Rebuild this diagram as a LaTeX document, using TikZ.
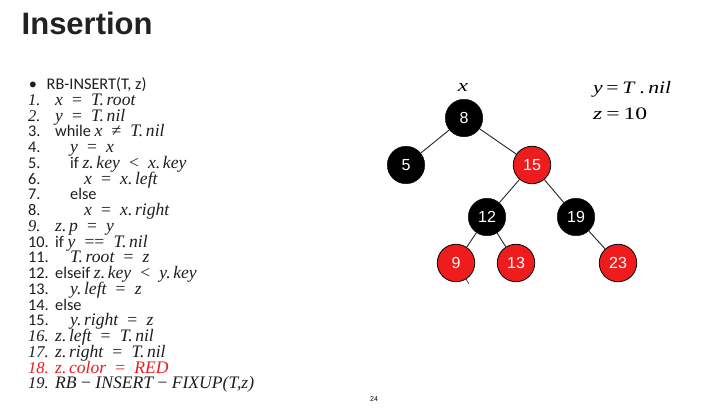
\documentclass[tikz,border=0pt]{standalone}
\usepackage{fontspec}
\setmainfont{Carlito}
\newfontfamily\titlefont{Liberation Sans}
\newfontfamily\serifit{Liberation Serif}
\definecolor{nodered}{HTML}{EE1C1C}
\definecolor{codered}{HTML}{E81E1E}
\definecolor{titlegray}{HTML}{222222}
\definecolor{textgray}{HTML}{1E1E1E}
\tikzset{
  code/.style={anchor=base west, inner sep=0pt, text height=10.5pt, text depth=3pt, text=textgray, font=\fontsize{16.3}{19}\selectfont},
  num/.style={code},
  blacknode/.style={circle, draw=black, fill=black, minimum size=37.5pt, inner sep=0pt, text=white, font=\titlefont\fontsize{16}{18}\selectfont},
  rednode/.style={blacknode, fill=nodered, line width=0.8pt},
  edge/.style={draw=black!85, line width=0.9pt},
  mathlabel/.style={inner sep=0pt, font=\serifit\fontsize{17.5}{20}\selectfont},
}
\newcommand{\itn}[1]{{\serifit\itshape\fontsize{16.5}{19}\selectfont #1}}
\newcommand{\m}[1]{{\serifit\itshape\fontsize{17.6}{20}\selectfont #1}}
\newcommand{\rel}[1]{\hspace{0.52em}{\upshape #1}\hspace{0.52em}}
\newcommand{\bin}{\hspace{0.25em}{\upshape −}\hspace{0.25em}}
\newcommand{\dt}{.\hspace{0.15em}}
\begin{document}
\begin{tikzpicture}[x=1pt,y=-1pt]
\useasboundingbox[fill=white] (0,0) rectangle (717,408);
% title
\node[anchor=base west, inner sep=0pt, text=titlegray, font=\titlefont\bfseries\fontsize{31}{36}\selectfont] (title) at (21.5,34) {Insertion};
% bullet header
\node[code, anchor=base] (bul) at (33,89.5) {\textbullet};
\node[code] (l0) at (46.5,89.5) {RB-INSERT(T, z)};
% numbers
\node[num] (n1) at (28,105.3) {\itn{1.}};
\node[num] (n2) at (28,121.0) {\itn{2.}};
\node[num] (n3) at (28,136.8) {3.};
\node[num] (n4) at (28,152.5) {4.};
\node[num] (n5) at (28,168.3) {5.};
\node[num] (n6) at (28,184.0) {6.};
\node[num] (n7) at (28,199.8) {7.};
\node[num] (n8) at (28,215.5) {8.};
\node[num] (n9) at (28,231.3) {\itn{9.}};
\node[num] (n10) at (28,247.0) {10.};
\node[num] (n11) at (28,262.8) {11.};
\node[num] (n12) at (28,278.5) {12.};
\node[num] (n13) at (28,294.3) {13.};
\node[num] (n14) at (28,310.0) {14.};
\node[num] (n15) at (28,325.8) {15.};
\node[num] (n16) at (28,341.5) {\itn{16.}};
\node[num] (n17) at (28,357.3) {\itn{17.}};
\node[num, text=codered] (n18) at (28,373.0) {\itn{18.}};
\node[num] (n19) at (28,388.8) {\itn{19.}};
% code
\node[code] (l1) at (55,105.3) {\m{x\rel{=}T\dt root}};
\node[code] (l2) at (55,121.0) {\m{y\rel{=}T\dt nil}};
\node[code] (l3) at (55,136.8) {while \m{x\rel{≠}T\dt nil}};
\node[code] (l4) at (70,152.5) {\m{y\rel{=}x}};
\node[code] (l5) at (70,168.3) {if \m{z\dt key\rel{<}x\dt key}};
\node[code] (l6) at (84,184.0) {\m{x\rel{=}x\dt left}};
\node[code] (l7) at (70,199.8) {else};
\node[code] (l8) at (84,215.5) {\m{x\rel{=}x\dt right}};
\node[code] (l9) at (55,231.3) {\m{z\dt p\rel{=}y}};
\node[code] (l10) at (55,247.0) {if \m{y\rel{==}T\dt nil}};
\node[code] (l11) at (70,262.8) {\m{T\dt root\rel{=}z}};
\node[code] (l12) at (55,278.5) {elseif \m{z\dt key\rel{<}y\dt key}};
\node[code] (l13) at (70,294.3) {\m{y\dt left\rel{=}z}};
\node[code] (l14) at (55,310.0) {else};
\node[code] (l15) at (70,325.8) {\m{y\dt right\rel{=}z}};
\node[code] (l16) at (55,341.5) {\m{z\dt left\rel{=}T\dt nil}};
\node[code] (l17) at (55,357.3) {\m{z\dt right\rel{=}T\dt nil}};
\node[code, text=codered] (l18) at (55,373.0) {\m{z\dt color\rel{=}RED}};
\node[code] (l19) at (55,388.8) {\m{RB\bin INSERT\bin FIXUP(T,z)}};
% page number
\node[inner sep=0pt, font=\titlefont\fontsize{7}{8}\selectfont] (page) at (374,399) {24};
% tree nodes
\node[blacknode] (t8) at (464,118) {8};
\node[blacknode] (t5) at (406,165) {5};
\node[rednode] (t15) at (532,165) {15};
\node[blacknode] (t12) at (487,217) {12};
\node[blacknode] (t19) at (576,217) {19};
\node[rednode] (t9) at (456,263) {9};
\node[rednode] (t13) at (516,263) {13};
\node[rednode] (t23) at (618,263) {23};
% edges
\draw[edge] (t8) -- (t5);
\draw[edge] (t8) -- (t15);
\draw[edge] (t15) -- (t12);
\draw[edge] (t15) -- (t19);
\draw[edge] (t12) -- (t9);
\draw[edge] (t12) -- (t13);
\draw[edge] (t19) -- (t23);
\coordinate (stub) at (469,284);
\draw[edge, line width=0.6pt] (t9.-58) -- (stub);
% labels
\node[mathlabel] (xl) at (463,87) {\scalebox{1.3}[1]{\itshape x}};
\node[mathlabel, anchor=base west] (yl) at (593,93.5) {\scalebox{1.24}[1]{\textit{y}\,=\,\textit{T}\,.\,\textit{nil}}};
\node[mathlabel, anchor=base west] (zl) at (593,119) {\scalebox{1.35}[1]{\textit{z}\,=\,10}};
\end{tikzpicture}
\end{document}
